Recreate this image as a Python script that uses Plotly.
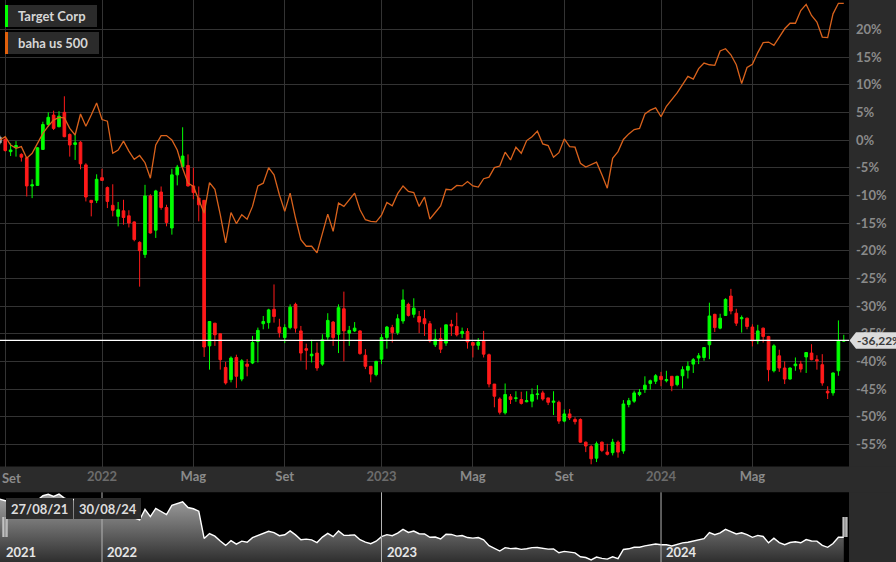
import pandas as pd
import plotly.graph_objects as go

W, H = 896, 562
PLOT_R = 849 / W          # right edge of the plotting area (paper)
MAIN_B = 1 - 466.5 / H    # bottom of main plot (paper)
NAV_T = (H - 492.3) / H   # top of navigator (paper)

# ---------------- data ----------------
week_start = pd.Timestamp("2021-08-23")
dates = [week_start + pd.Timedelta(weeks=i) for i in range(158)]

tgt_open = [0.5, 0.1, -2.1, -1.3, -2.6, -3.2, -8.3, -8.2, -1.7, 2.8,
            4.5, 2.4, 5.0, 1.0, -0.8, -0.4, -4.5, -10.9, -10.9, -6.8,
            -8.6, -11.8, -13.8, -12.8, -13.7, -14.8, -18.5, -20.7, -10.1, -16.3,
            -9.4, -12.2, -15.9, -6.3, -4.8, -4.6, -8.3, -10.5, -10.9, -37.2,
            -33.1, -35.0, -41.1, -43.3, -39.3, -43.2, -40.5, -40.3, -36.4, -33.2,
            -33.0, -30.6, -33.8, -35.7, -33.9, -29.7, -34.5, -37.7, -39.0, -38.5,
            -40.5, -35.6, -32.9, -35.1, -30.5, -34.9, -34.5, -34.5, -38.9, -40.9,
            -42.4, -39.6, -35.7, -33.9, -34.8, -32.7, -29.7, -31.5, -31.9, -32.3,
            -33.2, -37.0, -35.9, -36.7, -33.3, -33.7, -35.0, -34.6, -36.6, -37.1,
            -36.3, -38.8, -44.1, -46.8, -49.3, -46.4, -46.7, -46.9, -47.3, -47.2,
            -46.0, -45.7, -46.6, -47.4, -47.4, -50.8, -49.5, -50.5, -50.5, -54.6,
            -55.4, -57.5, -54.6, -56.4, -56.5, -54.6, -56.2, -47.8, -47.2, -46.0,
            -45.1, -44.0, -43.6, -42.7, -43.5, -42.7, -44.2, -42.6, -41.6, -40.5,
            -39.4, -39.3, -37.0, -31.5, -34.0, -31.7, -28.2, -31.3, -32.3, -32.2,
            -33.8, -36.3, -34.0, -35.5, -41.7, -39.0, -41.2, -43.2, -40.8, -40.5,
            -39.2, -38.5, -39.7, -40.6, -45.4, -45.7, -41.7, -36.35]

tgt_high = [0.8, 0.6, -0.6, -0.2, -2.4, -3.0, -7.1, -1.3, 3.3, 5.0,
            5.3, 5.2, 7.9, 1.2, 0.9, -0.2, -4.2, -10.9, -6.2, -5.2,
            -8.4, -8.0, -11.2, -10.8, -12.7, -14.7, -18.3, -8.1, -9.8, -9.0,
            -8.4, -11.7, -5.2, -4.5, 2.3, -2.6, -5.0, -8.4, -10.9, -32.8,
            -33.1, -35.0, -40.1, -39.1, -38.8, -39.6, -39.6, -35.4, -33.9, -31.8,
            -30.5, -26.1, -32.3, -33.3, -29.7, -29.4, -33.6, -36.8, -36.1, -36.6,
            -35.1, -31.3, -32.7, -29.7, -27.4, -33.6, -32.9, -34.4, -37.8, -40.9,
            -39.9, -35.1, -33.6, -33.4, -31.5, -27.0, -29.4, -28.6, -30.9, -30.7,
            -32.7, -34.2, -33.9, -33.4, -32.5, -31.2, -33.9, -34.0, -36.6, -35.8,
            -34.5, -38.6, -44.1, -46.5, -44.0, -45.9, -45.4, -45.5, -45.4, -44.9,
            -44.3, -45.3, -46.6, -45.4, -47.1, -48.7, -48.6, -50.1, -50.3, -54.5,
            -55.1, -54.5, -54.5, -54.9, -54.0, -54.3, -47.0, -46.6, -45.3, -45.0,
            -42.7, -43.3, -42.3, -41.9, -41.7, -42.7, -42.6, -40.9, -40.0, -39.4,
            -38.5, -37.5, -29.4, -31.4, -31.4, -28.6, -26.9, -30.5, -31.7, -32.1,
            -33.3, -33.4, -33.9, -35.4, -36.9, -37.9, -40.0, -41.1, -39.3, -39.9,
            -38.4, -36.9, -38.9, -38.7, -44.5, -42.0, -32.6, -35.2]

tgt_low = [-0.8, -2.1, -2.9, -3.0, -3.9, -10.2, -10.5, -8.2, -1.8, 2.4,
           1.8, 2.3, 0.5, -3.0, -3.6, -5.3, -11.1, -13.8, -11.4, -7.3,
           -12.3, -13.8, -15.6, -15.3, -15.8, -18.3, -26.5, -21.3, -16.9, -17.7,
           -12.6, -15.6, -17.1, -8.2, -5.1, -8.4, -10.7, -14.7, -39.2, -41.5,
           -37.2, -41.5, -44.2, -43.8, -44.8, -43.6, -42.7, -40.5, -40.2, -34.2,
           -34.1, -33.0, -35.7, -36.7, -34.2, -34.8, -39.9, -41.5, -40.2, -41.7,
           -40.8, -36.1, -37.2, -38.5, -40.0, -37.2, -34.7, -38.8, -41.4, -43.8,
           -42.7, -40.5, -37.7, -36.6, -35.2, -33.2, -31.9, -32.1, -34.9, -35.4,
           -36.6, -37.4, -38.5, -37.2, -35.4, -35.5, -35.8, -37.7, -39.3, -37.9,
           -39.3, -44.7, -48.3, -49.6, -49.6, -47.7, -47.3, -47.8, -47.4, -48.3,
           -46.9, -47.1, -47.9, -49.7, -51.3, -51.0, -50.6, -51.4, -54.7, -56.4,
           -58.6, -58.2, -56.4, -57.0, -57.0, -57.4, -56.7, -48.3, -47.5, -46.3,
           -45.7, -45.1, -44.1, -44.5, -43.8, -45.4, -44.5, -44.9, -43.1, -42.1,
           -40.5, -39.9, -39.6, -34.7, -34.2, -31.8, -31.5, -33.6, -34.8, -34.2,
           -37.3, -36.9, -36.6, -43.6, -42.0, -41.9, -44.1, -43.3, -41.7, -42.0,
           -42.1, -39.8, -41.5, -44.4, -46.8, -46.2, -42.6, -36.5]

tgt_close = [-0.5, -1.9, -1.8, -1.0, -3.1, -8.3, -8.1, -1.4, 2.8, 4.1,
             2.1, 4.3, 0.6, -0.9, -0.5, -4.3, -10.3, -11.3, -7.1, -7.3,
             -11.1, -12.7, -12.6, -14.0, -15.0, -18.0, -20.0, -10.1, -16.8, -9.2,
             -12.2, -14.9, -6.3, -4.9, -2.9, -8.3, -9.5, -11.7, -37.4, -32.8,
             -35.2, -39.7, -43.9, -39.4, -42.7, -39.9, -40.9, -36.6, -34.4, -32.8,
             -30.7, -31.9, -34.8, -33.9, -30.2, -34.0, -38.5, -38.0, -38.7, -41.2,
             -36.1, -32.6, -35.7, -30.3, -34.5, -34.4, -34.0, -38.6, -40.9, -42.3,
             -40.0, -35.7, -33.8, -34.8, -32.3, -28.9, -31.7, -30.4, -32.9, -33.2,
             -36.3, -36.0, -37.8, -33.4, -33.6, -35.2, -34.6, -36.5, -37.1, -36.5,
             -38.7, -44.1, -46.3, -49.2, -46.0, -46.9, -46.6, -47.6, -47.1, -46.0,
             -45.9, -46.8, -47.4, -47.2, -50.8, -49.5, -50.2, -50.9, -54.6, -55.3,
             -57.6, -54.9, -56.1, -56.8, -54.6, -56.4, -47.7, -47.1, -45.7, -45.6,
             -44.3, -43.5, -42.6, -43.3, -43.3, -44.4, -42.7, -41.5, -40.9, -39.7,
             -39.0, -37.5, -31.8, -33.9, -32.2, -28.8, -30.9, -33.1, -32.1, -33.7,
             -36.3, -34.5, -35.5, -41.5, -37.2, -41.2, -43.2, -41.2, -40.5, -41.4,
             -38.4, -39.7, -39.9, -43.9, -45.7, -42.1, -36.3, -36.22]

spx = [0.0, 0.6, -0.9, -1.5, -1.2, -3.3, -2.4, -0.6, 1.2, 2.5,
       3.6, 4.1, 4.0, 2.1, 0.9, 4.7, 2.5, 4.5, 6.7, 3.7,
       3.4, -2.4, -1.8, -0.2, -2.0, -3.5, -2.8, -4.1, -6.9, -0.9,
       0.8, 0.8, 0.0, -1.8, -5.1, -7.8, -8.4, -10.8, -13.2, -7.7,
       -8.9, -13.5, -18.6, -13.1, -15.1, -13.5, -14.3, -12.0, -8.3, -7.8,
       -5.0, -6.3, -9.9, -12.9, -9.6, -14.1, -18.0, -19.2, -19.2, -20.4,
       -16.8, -13.4, -16.5, -11.4, -12.0, -10.7, -9.6, -12.6, -14.4, -14.7,
       -14.8, -13.6, -11.3, -11.9, -9.7, -8.3, -9.3, -9.5, -12.0, -10.3,
       -14.3, -13.1, -11.9, -8.9, -9.0, -8.2, -8.3, -7.5, -8.3, -8.5,
       -7.0, -6.7, -5.0, -4.7, -2.2, -3.6, -1.3, -2.4, -0.1, 0.6,
       1.6, -0.7, -1.0, -3.1, -2.3, 0.2, -1.2, -1.3, -4.2, -4.9,
       -4.5, -4.0, -6.3, -8.7, -3.3, -2.1, 0.1, 1.1, 1.9, 2.1,
       4.7, 5.4, 5.8, 4.2, 6.1, 7.3, 8.5, 10.0, 11.5, 11.0,
       12.9, 13.9, 13.6, 13.5, 16.1, 16.5, 15.4, 13.6, 10.2, 13.1,
       13.7, 15.8, 17.6, 17.7, 17.1, 18.6, 20.1, 21.1, 21.1, 23.4,
       24.5, 22.5, 21.3, 18.6, 18.5, 22.8, 24.7, 24.7]

last_value = -36.22
y_ticks = [20, 15, 10, 5, 0, -5, -10, -15, -20, -25, -30, -35, -40, -45, -50, -55]
x_tick_dates = ["2021-08-30", "2022-01-03", "2022-05-02", "2022-08-29", "2023-01-02",
                "2023-05-01", "2023-08-28", "2024-01-01", "2024-04-29"]
x_tick_text = ["Set", "2022", "Mag", "Set", "2023", "Mag", "Set", "2024", "Mag"]
year_lines = ["2022-01-03", "2023-01-02", "2024-01-01"]
nav_years = ["2022", "2023", "2024"]
series_names = ["Target Corp", "baha us 500"]
range_labels = ["27/08/21", "30/08/24"]

X_RANGE = ["2021-08-23 04:00", "2024-09-01 19:00"]

# ---------------- figure ----------------
FONT = "Lato"
GREEN = "#00ff00"
RED = "#ff1a1a"
ORANGE = "#d9621c"
PANEL = "#2b2b2b"
TICK_GREY = "#8a8a8a"
YEAR_GREY = "#6c6c6c"

fig = go.Figure()

# first (partly hidden) doji candle in grey
fig.add_trace(go.Candlestick(
    x=dates[:1], open=tgt_open[:1], high=tgt_high[:1], low=tgt_low[:1], close=tgt_close[:1],
    increasing=dict(line=dict(color="#aaaaaa", width=1), fillcolor="#aaaaaa"),
    decreasing=dict(line=dict(color="#aaaaaa", width=1), fillcolor="#aaaaaa"),
    xaxis="x", yaxis="y", hoverinfo="skip"))

fig.add_trace(go.Candlestick(
    x=dates[1:], open=tgt_open[1:], high=tgt_high[1:], low=tgt_low[1:], close=tgt_close[1:],
    increasing=dict(line=dict(color=GREEN, width=1), fillcolor=GREEN),
    decreasing=dict(line=dict(color=RED, width=1), fillcolor=RED),
    whiskerwidth=0, name=series_names[0], xaxis="x", yaxis="y"))

fig.add_trace(go.Scatter(
    x=dates, y=spx, mode="lines", line=dict(color=ORANGE, width=1.3),
    name=series_names[1], xaxis="x", yaxis="y"))

# navigator
nav_floor = -62
fig.add_trace(go.Scatter(
    x=dates, y=[nav_floor] * len(dates), mode="lines", line=dict(width=0),
    xaxis="x2", yaxis="y2", hoverinfo="skip"))
fig.add_trace(go.Scatter(
    x=dates, y=tgt_close, mode="lines", line=dict(color="#ffffff", width=1.4),
    fill="tonexty", fillcolor="#666666",
    fillgradient=dict(type="vertical", colorscale=[[0, "#2e2e2e"], [1, "#a8a8a8"]],
                      start=-60, stop=6),
    xaxis="x2", yaxis="y2", hoverinfo="skip"))

shapes = []
# right axis panel and x-axis band
shapes.append(dict(type="rect", xref="paper", yref="paper", x0=PLOT_R, x1=1, y0=0, y1=1,
                   fillcolor=PANEL, line=dict(width=0), layer="below"))
shapes.append(dict(type="rect", xref="paper", yref="paper", x0=0, x1=1, y0=NAV_T, y1=MAIN_B,
                   fillcolor=PANEL, line=dict(width=0), layer="below"))
# last value line
shapes.append(dict(type="line", xref="paper", yref="y", x0=0, x1=PLOT_R,
                   y0=last_value, y1=last_value, line=dict(color="#ffffff", width=1.3)))
# last value tag (arrow box)
hh = 1.5
tip = 849.5 / W
bx = 856 / W
shapes.append(dict(type="path", xref="paper", yref="y",
                   path=f"M {tip},{last_value} L {bx},{last_value + hh} L 1,{last_value + hh} "
                        f"L 1,{last_value - hh} L {bx},{last_value - hh} Z",
                   fillcolor="#dcdcdc", line=dict(width=0), layer="above"))
# navigator year lines
for d in year_lines:
    shapes.append(dict(type="line", xref="x2", yref="paper", x0=d, x1=d, y0=0, y1=NAV_T,
                       line=dict(color="#b4b4b4", width=1), layer="above"))
# navigator handles
for hx in (2.5, 842.5):
    shapes.append(dict(type="rect", xref="paper", yref="paper", x0=hx / W, x1=(hx + 5) / W,
                       y0=1 - 537 / H, y1=1 - 517 / H, fillcolor="#e6e6e6",
                       line=dict(width=0), layer="above"))
    for k in (1.7, 3.4):
        shapes.append(dict(type="line", xref="paper", yref="paper",
                           x0=(hx + k) / W, x1=(hx + k) / W, y0=1 - 537 / H, y1=1 - 517 / H,
                           line=dict(color="#555555", width=0.8), layer="above"))
# legend boxes
leg_colors = [GREEN, "#e0600c"]
leg_boxes = [(5, 97, 5, 27), (5, 99, 32, 54)]
for (x0, x1, y0, y1), c in zip(leg_boxes, leg_colors):
    shapes.append(dict(type="rect", xref="paper", yref="paper", x0=x0 / W, x1=x1 / W,
                       y0=1 - y1 / H, y1=1 - y0 / H, fillcolor=PANEL, line=dict(width=0),
                       layer="above"))
    shapes.append(dict(type="rect", xref="paper", yref="paper", x0=x0 / W, x1=(x0 + 3) / W,
                       y0=1 - y1 / H, y1=1 - y0 / H, fillcolor=c, line=dict(width=0),
                       layer="above"))
# range date boxes
for x0, x1 in ((6, 73), (74, 141)):
    shapes.append(dict(type="rect", xref="paper", yref="paper", x0=x0 / W, x1=x1 / W,
                       y0=1 - 519 / H, y1=1 - 498 / H, fillcolor=PANEL, line=dict(width=0),
                       layer="above"))

annotations = []
for (x0, x1, y0, y1), name in zip(leg_boxes, series_names):
    annotations.append(dict(text=name, xref="paper", yref="paper", x=16 / W,
                            y=1 - (y0 + y1) / 2 / H, xanchor="left", yanchor="middle",
                            showarrow=False,
                            font=dict(family=FONT, size=13, color="#d6d6d6", weight="bold")))
annotations.append(dict(text=f"{last_value:.2f}%".replace(".", ","), xref="paper", yref="y",
                        x=856 / W, y=last_value, xanchor="left", yanchor="middle",
                        showarrow=False, borderpad=0,
                        font=dict(family=FONT, size=12, color="#3a3a3a", weight="bold")))
for (x0, x1), t in zip(((6, 73), (74, 141)), range_labels):
    annotations.append(dict(text=t, xref="paper", yref="paper", x=(x0 + x1) / 2 / W,
                            y=1 - 508.5 / H, xanchor="center", yanchor="middle",
                            showarrow=False,
                            font=dict(family=FONT, size=13, color="#dddddd", weight="bold")))
annotations.append(dict(text="2021", xref="paper", yref="paper", x=4 / W, y=1 - 552 / H,
                        xanchor="left", yanchor="middle", showarrow=False,
                        font=dict(family=FONT, size=13, color="#e6e6e6", weight="bold")))
for d, t in zip(year_lines, nav_years):
    annotations.append(dict(text=t, xref="x2", yref="paper", x=d, xshift=3, y=1 - 552 / H,
                            xanchor="left", yanchor="middle", showarrow=False,
                            font=dict(family=FONT, size=13, color="#e6e6e6", weight="bold")))
# first month label sits on the left edge: shown left-aligned at the edge
annotations.append(dict(text=x_tick_text[0], xref="paper", yref="paper", x=0,
                        y=1 - 477.5 / H, xanchor="left", yanchor="middle", showarrow=False,
                        font=dict(family=FONT, size=13, color=TICK_GREY, weight="bold")))

tick_text_html = [t if not t.isdigit() else f'<span style="color:{YEAR_GREY}">{t}</span>'
                  for t in x_tick_text]
tick_text_html[0] = " "

fig.update_layout(
    width=W, height=H, margin=dict(l=0, r=0, t=0, b=0),
    paper_bgcolor="#000000", plot_bgcolor="#000000",
    showlegend=False, hovermode=False,
    font=dict(family=FONT),
    xaxis=dict(domain=[0, PLOT_R], range=X_RANGE, type="date", anchor="y",
               tickvals=x_tick_dates, ticktext=tick_text_html,
               showgrid=True, gridcolor="#333333", gridwidth=1, zeroline=False,
               showline=False, ticks="", rangeslider=dict(visible=False),
               tickfont=dict(family=FONT, size=13, color=TICK_GREY, weight="bold")),
    yaxis=dict(domain=[MAIN_B, 1], range=[-59.0, 25.3], side="right", anchor="x",
               tickvals=y_ticks, ticktext=[f"{v}%" for v in y_ticks],
               showgrid=True, gridcolor="#333333", gridwidth=1, zeroline=False,
               showline=False, ticks="", ticklabelstandoff=6,
               tickfont=dict(family=FONT, size=13, color=TICK_GREY, weight="bold")),
    xaxis2=dict(domain=[0, PLOT_R], range=X_RANGE, type="date", anchor="y2",
                visible=False, rangeslider=dict(visible=False)),
    yaxis2=dict(domain=[0, NAV_T], range=[-59.5, 6.0], anchor="x2", visible=False),
    shapes=shapes, annotations=annotations,
)

fig.write_html("out.html")
